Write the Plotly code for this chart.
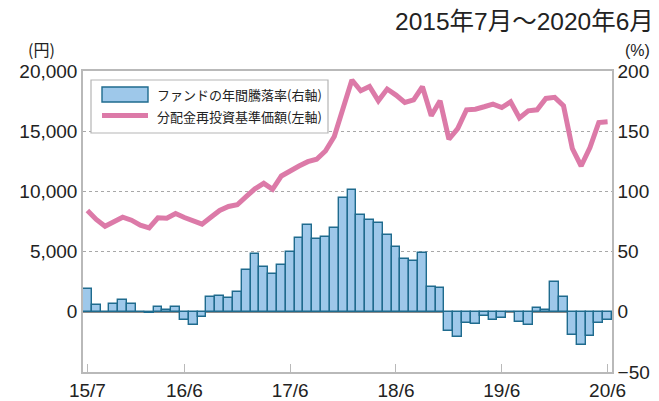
import plotly.graph_objects as go

# Monthly data, 2015/7 .. 2020/6 (60 months)
months_idx = list(range(60))
tick_positions = [0, 11, 23, 35, 47, 59]
tick_labels = ["15/7", "16/6", "17/6", "18/6", "19/6", "20/6"]

# Fund annual return (%), right axis
annual_return = [
    18.6, 5.3, 0.2, 6.4, 9.4, 6.1, -0.5, -1.4, 3.9, 1.9, 3.9, -6.7,
    -10.6, -4.4, 11.9, 12.8, 11.4, 16.1, 34.7, 47.8, 36.9, 31.7, 38.9, 50.0,
    61.1, 72.2, 60.3, 61.9, 70.0, 94.3, 101.4, 80.6, 76.1, 73.9, 63.6, 53.6,
    43.6, 41.9, 48.6, 20.8, 19.7, -15.8, -20.6, -8.9, -10.3, -3.6, -6.9, -5.3,
    -0.5, -8.6, -10.6, 3.1, 1.1, 24.4, 11.9, -19.4, -27.8, -20.0, -8.9, -6.9,
]

# NAV with dividends reinvested (yen), left axis
nav = [
    8420, 7670, 7110, 7470, 7860, 7610, 7190, 6970, 7810, 7780, 8170, 7830,
    7560, 7280, 7860, 8420, 8750, 8890, 9560, 10220, 10670, 10170, 11280, 11750,
    12110, 12470, 12670, 13360, 14560, 16900, 19250, 18360, 18720, 17530, 18500, 18000,
    17390, 17610, 18690, 16280, 17530, 14330, 15220, 16780, 16830, 17030, 17250, 16970,
    17440, 16110, 16690, 16780, 17720, 17810, 17110, 13560, 12110, 13640, 15720, 15780,
]

left_ticks = [0, 5000, 10000, 15000, 20000]
left_ticktext = ["0", "5,000", "10,000", "15,000", "20,000"]
right_ticks = [-50, 0, 50, 100, 150, 200]

legend_bar = "ファンドの年間騰落率(右軸)"
legend_line = "分配金再投資基準価額(左軸)"
title_text = "2015年7月～2020年6月"

NUM_FONT = "Liberation Sans, Arial, Noto Sans CJK JP"
JP_FONT = "Noto Sans CJK JP, Liberation Sans"
BAR_FILL = "#9ec8ea"
BAR_EDGE = "#1f6b8e"
LINE_COLOR = "#dc7aa8"
FRAME = "#b9b9b9"

fig = go.Figure()
fig.add_trace(go.Bar(
    x=months_idx, y=annual_return, yaxis="y", name=legend_bar,
    marker=dict(color=BAR_FILL, line=dict(color=BAR_EDGE, width=1.4)),
    width=1.0,
))
fig.add_trace(go.Scatter(
    x=months_idx, y=nav, yaxis="y2", mode="lines", name=legend_line,
    line=dict(color=LINE_COLOR, width=5),
))

W, H = 659, 401
L, R, T, B = 83, 47, 71, 29
pw, ph = W - L - R, H - T - B

def px2x(px):
    return (px - L) / pw

def px2y(py):
    return (H - B - py) / ph

fig.update_layout(
    width=W, height=H,
    margin=dict(l=L, r=R, t=T, b=B, autoexpand=False),
    paper_bgcolor="white", plot_bgcolor="white",
    showlegend=False, bargap=0,
    font=dict(family=NUM_FONT, size=19, color="#222"),
    xaxis=dict(
        range=[-0.5, 59.5], tickmode="array", tickvals=tick_positions, ticktext=tick_labels,
        showgrid=False, zeroline=False, showline=True, linecolor=FRAME, linewidth=1.5,
        mirror=True, ticks="inside", ticklen=8, tickcolor=FRAME, tickwidth=1.2,
        tickfont=dict(size=19, family=NUM_FONT, color="#222"), automargin=False,
        ticklabelstandoff=0,
    ),
    yaxis=dict(
        side="right", range=[-50, 200], tickmode="array", tickvals=right_ticks,
        showgrid=True, gridcolor="#a8a8a8", griddash="dot", gridwidth=1,
        zeroline=True, zerolinecolor="#8c8c8c", zerolinewidth=1.5,
        showline=True, linecolor=FRAME, linewidth=1.5, ticks="",
        tickfont=dict(size=19, family=NUM_FONT, color="#222"), automargin=False,
    ),
    yaxis2=dict(
        side="left", overlaying="y", range=[-5000, 20000], tickmode="array",
        tickvals=left_ticks, ticktext=left_ticktext,
        showgrid=False, zeroline=False,
        showline=True, linecolor=FRAME, linewidth=1.5, ticks="",
        tickfont=dict(size=19, family=NUM_FONT, color="#222"), automargin=False,
    ),
)

# Manual legend
shapes = [
    dict(type="rect", xref="paper", yref="paper",
         x0=px2x(91), x1=px2x(328), y0=px2y(133), y1=px2y(80),
         fillcolor="white", line=dict(color="#b5b5b5", width=1.2), layer="above"),
    dict(type="rect", xref="paper", yref="paper",
         x0=px2x(102), x1=px2x(148), y0=px2y(102), y1=px2y(87),
         fillcolor=BAR_FILL, line=dict(color=BAR_EDGE, width=1.4), layer="above"),
    dict(type="line", xref="paper", yref="paper",
         x0=px2x(102), x1=px2x(148), y0=px2y(115.5), y1=px2y(115.5),
         line=dict(color=LINE_COLOR, width=5), layer="above"),
]
fig.update_layout(shapes=shapes)

ann = [
    dict(text=legend_bar, x=px2x(155), y=px2y(95), xanchor="left", yanchor="middle"),
    dict(text=legend_line, x=px2x(155), y=px2y(116), xanchor="left", yanchor="middle"),
]
annotations = []
for a in ann:
    a.update(xref="paper", yref="paper", showarrow=False,
             font=dict(family=JP_FONT, size=13, color="#222"))
    annotations.append(a)
annotations.append(dict(text=title_text, xref="paper", yref="paper", x=px2x(656), y=px2y(21),
                        xanchor="right", yanchor="middle", showarrow=False,
                        font=dict(family=NUM_FONT, size=24.5, color="#222")))
annotations.append(dict(text="(円)", xref="paper", yref="paper", x=px2x(41), y=px2y(49),
                        xanchor="center", yanchor="middle", showarrow=False,
                        font=dict(family=JP_FONT, size=16, color="#222")))
annotations.append(dict(text="(%)", xref="paper", yref="paper", x=px2x(637), y=px2y(50),
                        xanchor="center", yanchor="middle", showarrow=False,
                        font=dict(family=NUM_FONT, size=16, color="#222")))
fig.update_layout(annotations=annotations)

fig.write_html("out.html", config={"displayModeBar": False},
               post_script="document.body.style.margin='0px';document.body.style.overflow='hidden';")
